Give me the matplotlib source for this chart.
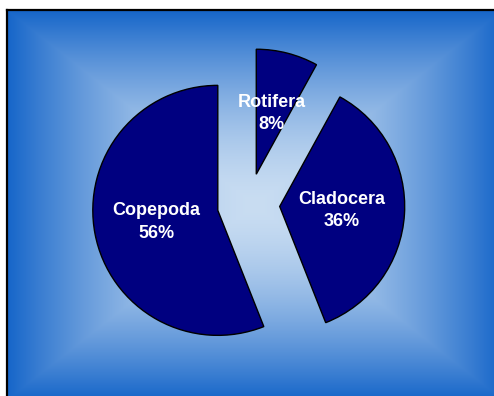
"""Zooplankton composition pie chart on a rectangular gradient panel."""

import matplotlib.pyplot as plt
import numpy as np
from matplotlib.colors import to_rgb

groups = ["Rotifera", "Cladocera", "Copepoda"]
shares = [8, 36, 56]

W, H = 494, 396
DPI = 100

EDGE_BLUE = "#1565c9"
CENTER_BLUE = "#c9ddf2"
SLICE_COLOR = "#000080"

fig = plt.figure(figsize=(W / DPI, H / DPI), dpi=DPI)
fig.patch.set_facecolor("white")

# panel with a rectangular ("from centre") gradient fill
bg = fig.add_axes([7 / W, -4 / H, 496 / W, 390 / H])
ny, nx = 390, 496
yy, xx = np.mgrid[0:ny, 0:nx]
t = np.maximum(np.abs(xx - (nx - 1) / 2) / (nx / 2), np.abs(yy - (ny - 1) / 2) / (ny / 2))
t = np.clip(t, 0, 1) ** 1.6
c0 = np.array(to_rgb(CENTER_BLUE))
c1 = np.array(to_rgb(EDGE_BLUE))
grad = c0 + (c1 - c0) * t[..., None]
bg.imshow(grad, aspect="auto", interpolation="bilinear")
bg.set_xticks([])
bg.set_yticks([])
for side in bg.spines.values():
    side.set_color("black")
    side.set_linewidth(1.6)

# pie drawn on a full-figure axes, 125 px per data unit
ax = fig.add_axes([0, 0, 1, 1])
ax.set_facecolor("none")

cx, cy, radius = 248.5, 204.5, 125.0
names = iter(groups)


def label_for(pct):
    return f"{next(names)}\n{pct:.0f}%"


wedges, texts, autotexts = ax.pie(
    shares,
    explode=[0.25] * len(shares),
    startangle=90,
    counterclock=False,
    colors=[SLICE_COLOR] * len(shares),
    wedgeprops=dict(edgecolor="black", linewidth=1.0),
    autopct=label_for,
    pctdistance=0.5,
)
for txt in autotexts:
    txt.set_color("white")
    txt.set_fontweight("bold")
    txt.set_fontsize(13)
    txt.set_fontfamily("Liberation Sans")
    txt.set_linespacing(1.4)

ax.set_xlim(-cx / radius, (W - cx) / radius)
ax.set_ylim((cy - H) / radius, cy / radius)
ax.set_axis_off()

fig.savefig("out.png", dpi=DPI)
